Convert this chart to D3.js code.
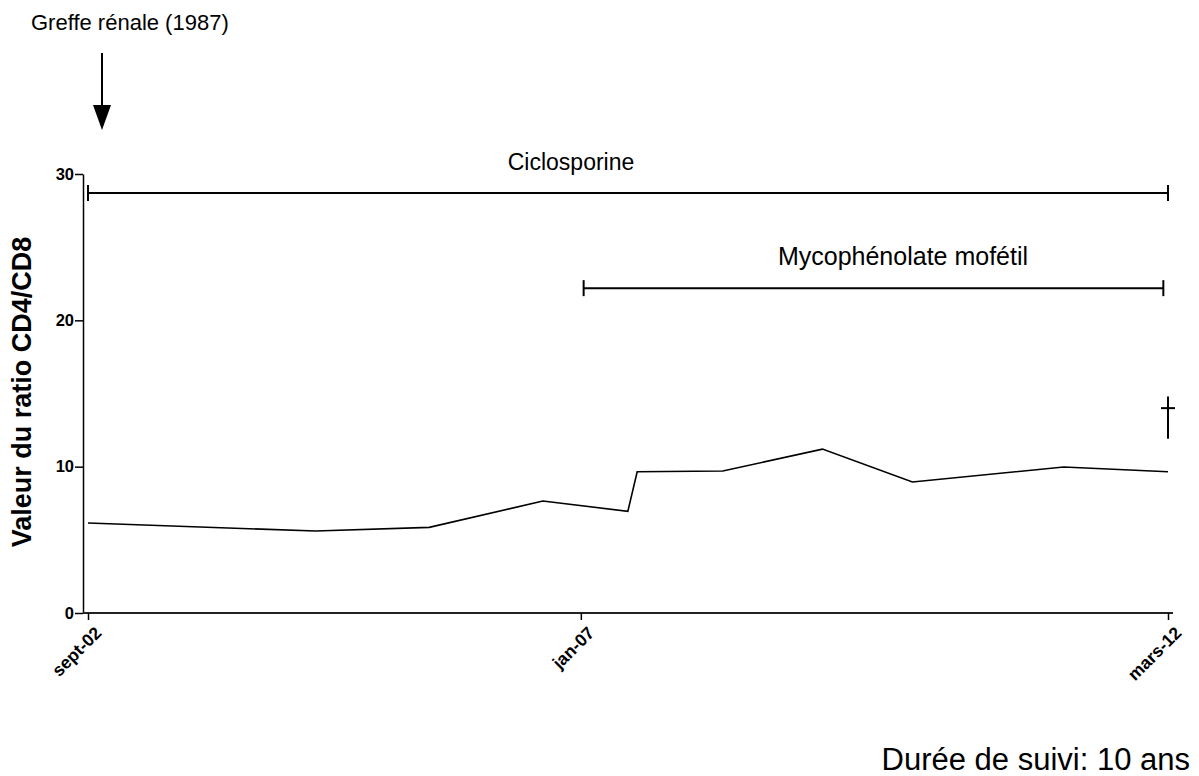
<!DOCTYPE html>
<html>
<head>
<meta charset="utf-8">
<script src="https://cdn.jsdelivr.net/npm/d3@7"></script>
<style>
  body { margin: 0; background: #fff; }
  text { font-family: "Liberation Sans", Arial, sans-serif; fill: #000; }
</style>
</head>
<body>
<svg width="1199" height="776"></svg>
<script>
// data
const dates = ['2002-09-01', '2004-09-01', '2005-09-01', '2006-09-01', '2007-06-01', '2007-07-01',
  '2008-04-01', '2009-02-15', '2009-12-01', '2011-04-01', '2012-03-01'];
const ratios = [6.15, 5.6, 5.85, 7.65, 6.95, 9.65, 9.7, 11.2, 8.95, 9.98, 9.65];
const tickDates = ['2002-09-01', '2007-01-01', '2012-03-01'];
const tickLabels = ['sept-02', 'jan-07', 'mars-12'];
const yTicks = [0, 10, 20, 30];
const treatments = ['Ciclosporine', 'Mycophénolate mofétil'];
const treatStart = ['2002-09-01', '2007-01-10'];
const treatEnd = ['2012-03-01', '2012-02-15'];
const treatLevel = [28.7, 22.2];

const parse = d3.timeParse('%Y-%m-%d');
const svg = d3.select('svg');

const x = d3.scaleTime()
  .domain([parse(tickDates[0]), parse(tickDates[2])])
  .range([88, 1168]);
const y = d3.scaleLinear().domain([0, 30]).range([613, 174]);

// y axis
const yAxis = svg.append('g')
  .attr('transform', 'translate(83,0)')
  .call(d3.axisLeft(y).tickValues(yTicks).tickSize(8).tickSizeOuter(0));
yAxis.select('.domain').attr('stroke', '#000').attr('stroke-width', 1.5);
yAxis.selectAll('.tick line').attr('stroke', '#000').attr('stroke-width', 1.5);
yAxis.selectAll('.tick text')
  .attr('x', -9)
  .style('font-size', '16.5px')
  .style('font-weight', 'bold')
  .style('font-family', '"Liberation Sans", Arial, sans-serif');

// x axis
const xAxis = svg.append('g')
  .attr('transform', 'translate(0,613)')
  .call(d3.axisBottom(x).tickValues(tickDates.map(parse)).tickSize(7).tickSizeOuter(0)
    .tickFormat((d, i) => tickLabels[i]));
xAxis.select('.domain').attr('d', 'M83,0H1173').attr('stroke', '#222').attr('stroke-width', 2);
xAxis.selectAll('.tick line').attr('stroke', '#000').attr('stroke-width', 1.5);
xAxis.selectAll('.tick text')
  .attr('text-anchor', 'end')
  .attr('dy', 0)
  .attr('transform', 'translate(7,14) rotate(-45)')
  .style('font-size', '17.5px')
  .style('font-weight', 'bold')
  .style('font-family', '"Liberation Sans", Arial, sans-serif');

// data line
const line = d3.line()
  .x((d, i) => x(parse(dates[i])))
  .y(d => y(d));
svg.append('path')
  .datum(ratios)
  .attr('d', line)
  .attr('fill', 'none')
  .attr('stroke', '#000')
  .attr('stroke-width', 1.6);

// treatment bars
treatments.forEach((name, i) => {
  const x0 = x(parse(treatStart[i]));
  const x1 = x(parse(treatEnd[i]));
  const yy = y(treatLevel[i]);
  const g = svg.append('g').attr('stroke', '#000').attr('stroke-width', 2);
  g.append('line').attr('x1', x0).attr('x2', x1).attr('y1', yy).attr('y2', yy);
  g.append('line').attr('x1', x0).attr('x2', x0).attr('y1', yy - 8).attr('y2', yy + 8);
  g.append('line').attr('x1', x1).attr('x2', x1).attr('y1', yy - 8).attr('y2', yy + 8);
  svg.append('text')
    .attr('x', i === 0 ? 571 : 903)
    .attr('y', yy - 23)
    .attr('text-anchor', 'middle')
    .style('font-size', i === 0 ? '23px' : '25px')
    .text(name);
});

// death cross
const cx = x(parse('2012-03-01'));
svg.append('line').attr('x1', cx).attr('x2', cx).attr('y1', y(14.8)).attr('y2', y(11.9))
  .attr('stroke', '#000').attr('stroke-width', 2);
svg.append('line').attr('x1', cx - 7).attr('x2', cx + 7).attr('y1', y(14.0)).attr('y2', y(14.0))
  .attr('stroke', '#000').attr('stroke-width', 2);

// transplant arrow
svg.append('text')
  .attr('x', 31).attr('y', 30)
  .style('font-size', '22px')
  .text('Greffe rénale (1987)');
svg.append('line').attr('x1', 102).attr('x2', 102).attr('y1', 53).attr('y2', 108)
  .attr('stroke', '#000').attr('stroke-width', 2);
svg.append('path').attr('d', 'M93,105L111,105L102,130Z').attr('fill', '#000');

// y label
svg.append('text')
  .attr('transform', 'translate(31,392) rotate(-90)')
  .attr('text-anchor', 'middle')
  .style('font-size', '27px')
  .style('font-weight', 'bold')
  .text('Valeur du ratio CD4/CD8');

// follow-up
svg.append('text')
  .attr('x', 1190).attr('y', 770)
  .attr('text-anchor', 'end')
  .style('font-size', '31px')
  .text('Durée de suivi: 10 ans');
</script>
</body>
</html>
